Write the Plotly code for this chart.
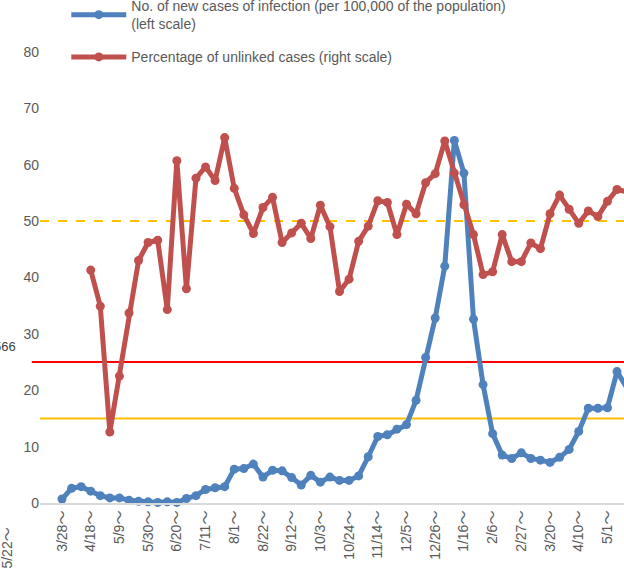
import plotly.graph_objects as go

# ---- data -----------------------------------------------------------------
week_labels = [
    "3/28～", "4/4～", "4/11～", "4/18～", "4/25～", "5/2～", "5/9～", "5/16～", "5/23～", "5/30～",
    "6/6～", "6/13～", "6/20～", "6/27～", "7/4～", "7/11～", "7/18～", "7/25～", "8/1～", "8/8～",
    "8/15～", "8/22～", "8/29～", "9/5～", "9/12～", "9/19～", "9/26～", "10/3～", "10/10～", "10/17～",
    "10/24～", "10/31～", "11/7～", "11/14～", "11/21～", "11/28～", "12/5～", "12/12～", "12/19～", "12/26～",
    "1/2～", "1/9～", "1/16～", "1/23～", "1/30～", "2/6～", "2/13～", "2/20～", "2/27～", "3/6～",
    "3/13～", "3/20～", "3/27～", "4/3～", "4/10～", "4/17～", "4/24～", "5/1～", "5/8～", "5/15～",
]

new_cases_per_100k = [
    0.7, 2.6, 2.9, 2.1, 1.3, 0.9, 0.9, 0.5, 0.3, 0.2,
    0.1, 0.2, 0.1, 0.8, 1.3, 2.4, 2.7, 2.9, 6.0, 6.1,
    6.9, 4.6, 5.8, 5.7, 4.5, 3.2, 4.9, 3.7, 4.6, 4.0,
    4.0, 4.8, 8.2, 11.8, 12.1, 13.1, 13.9, 18.2, 25.8, 32.8,
    42.0, 64.3, 58.5, 32.6, 21.0, 12.3, 8.5, 7.9, 8.9, 7.9,
    7.6, 7.2, 8.1, 9.5, 12.7, 16.8, 16.8, 16.9, 23.3, 20.5,
]

unlinked_pct = [
    None, None, None, 41.3, 34.9, 12.6, 22.5, 33.7, 43.0, 46.2,
    46.6, 34.3, 60.7, 38.0, 57.6, 59.6, 57.2, 64.8, 55.8, 51.1,
    47.8, 52.4, 54.2, 46.2, 47.9, 49.6, 46.9, 52.8, 49.0, 37.5,
    39.7, 46.4, 49.1, 53.6, 53.3, 47.6, 53.0, 51.3, 56.8, 58.4,
    64.2, 58.5, 52.9, 47.6, 40.5, 41.0, 47.6, 42.8, 42.8, 46.1,
    45.1, 51.3, 54.6, 52.1, 49.6, 51.8, 50.8, 53.5, 55.6, 55.2,
]

shown_ticks = week_labels[::3]
y_ticks = [0, 10, 20, 30, 40, 50, 60, 70, 80, 90]

threshold_stage4 = 25   # left scale
threshold_stage3 = 15   # left scale
threshold_unlinked = 50  # right scale

name_cases = "No. of new cases of infection (per 100,000 of the population)<br>(left scale)"
name_unlinked = "Percentage of unlinked cases (right scale)"

BLUE = "#4F81BD"
RED = "#C0504D"
GREY = "#595959"
FONT = "Liberation Sans, Arial, Noto Sans CJK JP, sans-serif"

# ---- figure ---------------------------------------------------------------
fig = go.Figure()
fig.add_trace(go.Scatter(
    x=week_labels, y=new_cases_per_100k, name=name_cases, mode="lines+markers",
    line=dict(color=BLUE, width=5), marker=dict(color=BLUE, size=9),
    yaxis="y", cliponaxis=False, legendgroup="a",
))
fig.add_trace(go.Scatter(
    x=week_labels, y=unlinked_pct, name=name_unlinked, mode="lines+markers",
    line=dict(color=RED, width=5), marker=dict(color=RED, size=9),
    yaxis="y2", cliponaxis=False, legendgroup="b", connectgaps=False,
))

fig.add_shape(type="line", xref="paper", x0=-0.014, x1=1, yref="y",
              y0=threshold_stage4, y1=threshold_stage4,
              line=dict(color="#FF0000", width=2), layer="below")
fig.add_shape(type="line", xref="paper", x0=0, x1=1, yref="y",
              y0=threshold_stage3, y1=threshold_stage3,
              line=dict(color="#FFC000", width=2), layer="below")
fig.add_shape(type="line", xref="paper", x0=0, x1=1, yref="y2",
              y0=threshold_unlinked, y1=threshold_unlinked,
              line=dict(color="#FFC000", width=2, dash="dash"), layer="below")

# fragments of the neighbouring chart visible at the left edge
fig.add_annotation(text="566", xref="paper", x=-0.037, xanchor="right",
                   yref="y", y=27.8, showarrow=False,
                   font=dict(family=FONT, size=13, color="#404040"))
fig.add_annotation(text="5/22～", xref="paper", x=-0.056, xanchor="center",
                   yref="paper", y=-0.09, yanchor="middle",
                   textangle=-90, showarrow=False,
                   font=dict(family=FONT, size=14, color=GREY))

Y_MAX = 89.2
fig.update_layout(
    width=624, height=571,
    margin=dict(l=40, r=0, t=0, b=68, autoexpand=False),
    paper_bgcolor="white", plot_bgcolor="white",
    font=dict(family=FONT, color=GREY),
    showlegend=True,
    legend=dict(x=0.045, y=1.02, xanchor="left", yanchor="top",
                bgcolor="rgba(0,0,0,0)", font=dict(family=FONT, size=14, color=GREY),
                tracegroupgap=12, itemwidth=55),
    xaxis=dict(type="category", range=[-2.3, 58.73], tickmode="array",
               tickvals=shown_ticks, ticktext=shown_ticks, tickangle=-90,
               showgrid=False, zeroline=False, ticks="",
               showline=True, linecolor="#D9D9D9", linewidth=2,
               tickfont=dict(family=FONT, size=14, color=GREY)),
    yaxis=dict(range=[0, Y_MAX], tickmode="array", tickvals=y_ticks,
               showgrid=False, zeroline=False, showline=False, ticks="",
               tickfont=dict(family=FONT, size=14, color=GREY)),
    yaxis2=dict(range=[0, Y_MAX], overlaying="y", side="right",
                showgrid=False, zeroline=False, showline=False,
                showticklabels=False, ticks=""),
)

fig.write_html("out.html", config={"displayModeBar": False},
               post_script="document.body.style.margin='0';")
